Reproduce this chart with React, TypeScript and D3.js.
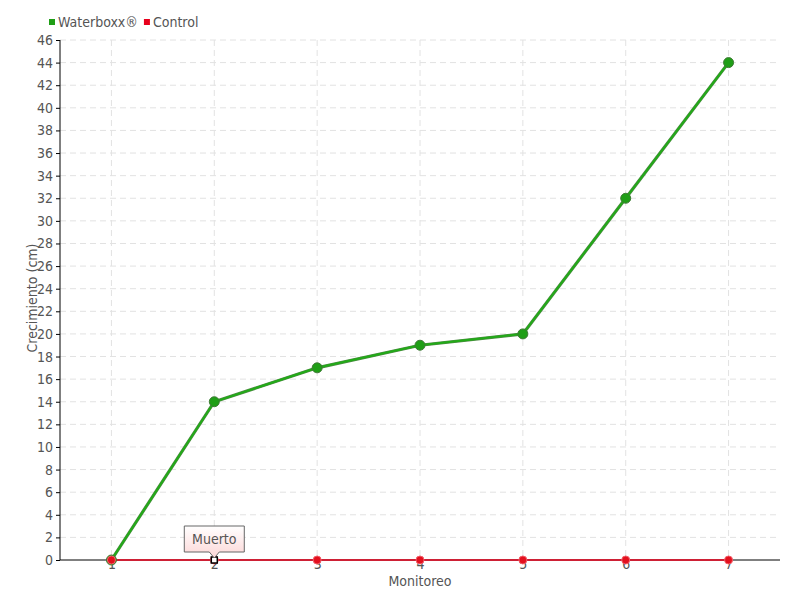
import { useEffect, useRef } from 'react'
import * as d3 from 'd3'

const categories = ['1', '2', '3', '4', '5', '6', '7']
const waterboxx = [0, 14, 17, 19, 20, 32, 44]
const control = [0, 0, 0, 0, 0, 0, 0]
const yTicks = d3.range(0, 47, 2)
const seriesNames = ['Waterboxx®', 'Control']
const seriesColors = ['#1f9e16', '#e8001c']

export default function App() {
  const svgRef = useRef<SVGSVGElement>(null)

  useEffect(() => {
    if (!svgRef.current) return
    const width = 800
    const height = 600
    const margin = { top: 40, right: 20, bottom: 40, left: 60 }
    const innerW = width - margin.left - margin.right
    const innerH = height - margin.top - margin.bottom
    const font = '"DejaVu Sans Condensed", "DejaVu Sans", sans-serif'

    const svg = d3.select(svgRef.current)
    svg.selectAll('*').remove()
    svg.attr('width', width).attr('height', height)
    svg.append('rect').attr('width', width).attr('height', height).attr('fill', '#fff')

    const defs = svg.append('defs')
    const grad = defs.append('linearGradient').attr('id', 'tipGrad').attr('x1', 0).attr('y1', 0).attr('x2', 0).attr('y2', 1)
    grad.append('stop').attr('offset', '0%').attr('stop-color', '#ffffff')
    grad.append('stop').attr('offset', '100%').attr('stop-color', '#fcd6d6')

    const g = svg.append('g').attr('transform', `translate(${margin.left},${margin.top})`)

    const x = d3.scalePoint<string>().domain(categories).range([0, innerW]).padding(0.5)
    const y = d3.scaleLinear().domain([0, 46]).range([innerH, 0])

    // grid
    g.append('g')
      .selectAll('line')
      .data(yTicks.filter((d) => d > 0))
      .join('line')
      .attr('x1', 0).attr('x2', innerW)
      .attr('y1', (d) => y(d)).attr('y2', (d) => y(d))
      .attr('stroke', '#e2e2e2')
      .attr('stroke-dasharray', '6,4')
    g.append('g')
      .selectAll('line')
      .data(categories)
      .join('line')
      .attr('x1', (d) => x(d) ?? 0).attr('x2', (d) => x(d) ?? 0)
      .attr('y1', 0).attr('y2', innerH)
      .attr('stroke', '#e2e2e2')
      .attr('stroke-dasharray', '6,4')

    // axes
    const yAxis = g.append('g').call(d3.axisLeft(y).tickValues(yTicks).tickSize(4).tickPadding(3))
    yAxis.select('.domain').attr('stroke', '#000').attr('d', `M0,0V${innerH}`)
    yAxis.selectAll('.tick line').attr('stroke', '#000')
    yAxis.selectAll('text').attr('fill', '#555').attr('font-size', 14).attr('font-family', font)

    const xAxis = g.append('g').attr('transform', `translate(0,${innerH})`)
      .call(d3.axisBottom(x).tickSize(0).tickPadding(-1))
    xAxis.select('.domain').attr('stroke', '#000').attr('d', `M0,0H${innerW}`)
    xAxis.selectAll('text').attr('fill', '#555').attr('font-size', 14).attr('font-family', font)

    // control series
    const ctrlLine = d3.line<number>().x((_, i) => x(categories[i]) ?? 0).y((d) => y(d))
    g.append('path').datum(control).attr('d', ctrlLine).attr('fill', 'none')
      .attr('stroke', seriesColors[1]).attr('stroke-width', 1.5)

    // waterboxx series
    const wLine = d3.line<number>().x((_, i) => x(categories[i]) ?? 0).y((d) => y(d))
    g.append('path').datum(waterboxx).attr('d', wLine).attr('fill', 'none')
      .attr('stroke', '#4f8a45').attr('stroke-width', 3.2)
    g.append('path').datum(waterboxx).attr('d', wLine).attr('fill', 'none')
      .attr('stroke', '#22aa18').attr('stroke-width', 2)

    g.selectAll('circle.w')
      .data(waterboxx)
      .join('circle')
      .attr('class', 'w')
      .attr('cx', (_, i) => x(categories[i]) ?? 0)
      .attr('cy', (d) => y(d))
      .attr('r', 5)
      .attr('fill', '#1f9e16')
      .attr('stroke', '#3f7a36')
      .attr('stroke-width', 1)

    g.selectAll('circle.c')
      .data(control)
      .join('circle')
      .attr('class', 'c')
      .attr('cx', (_, i) => x(categories[i]) ?? 0)
      .attr('cy', (d) => y(d))
      .attr('r', 4)
      .attr('fill', '#e3101e')
      .attr('stroke', '#f2606a')
      .attr('stroke-width', 1)

    // highlighted point + tooltip
    const hx = x(categories[1]) ?? 0
    const hy = y(control[1])
    g.append('rect').attr('x', hx - 3).attr('y', hy - 3).attr('width', 6).attr('height', 6)
      .attr('fill', '#fff').attr('stroke', '#000').attr('stroke-width', 1.5)
    const tw = 60
    const th = 26
    const tipY = hy - 8 - th
    g.append('path')
      .attr('d', `M${hx - tw / 2},${tipY}H${hx + tw / 2}V${tipY + th}H${hx + 5}L${hx},${tipY + th + 6}L${hx - 5},${tipY + th}H${hx - tw / 2}Z`)
      .attr('fill', 'url(#tipGrad)')
      .attr('stroke', '#666')
      .attr('stroke-width', 1)
    g.append('text').attr('x', hx).attr('y', tipY + 18).attr('text-anchor', 'middle')
      .attr('fill', '#555').attr('font-size', 14).attr('font-family', font).text('Muerto')

    // axis titles
    svg.append('text').attr('x', margin.left + innerW / 2).attr('y', 586).attr('text-anchor', 'middle')
      .attr('fill', '#555').attr('font-size', 14).attr('font-family', font).text('Monitoreo')
    svg.append('text').attr('transform', 'translate(37,298) rotate(-90)')
      .attr('text-anchor', 'middle')
      .attr('fill', '#555').attr('font-size', 14).attr('font-family', font).text('Crecimiento (cm)')

    // legend
    const legend = svg.append('g').attr('transform', 'translate(49,22)')
    let lx = 0
    seriesNames.forEach((name, i) => {
      legend.append('rect').attr('x', lx).attr('y', -3).attr('width', 6).attr('height', 6).attr('fill', seriesColors[i])
      const t = legend.append('text').attr('x', lx + 9).attr('y', 5)
        .attr('fill', '#555').attr('font-size', 14).attr('font-family', font).text(name)
      const w = (t.node() as SVGTextElement).getComputedTextLength()
      lx += w + 15
    })
  }, [])

  return <svg ref={svgRef} style={{ display: 'block', position: 'absolute', left: 0, top: 0 }} />
}
